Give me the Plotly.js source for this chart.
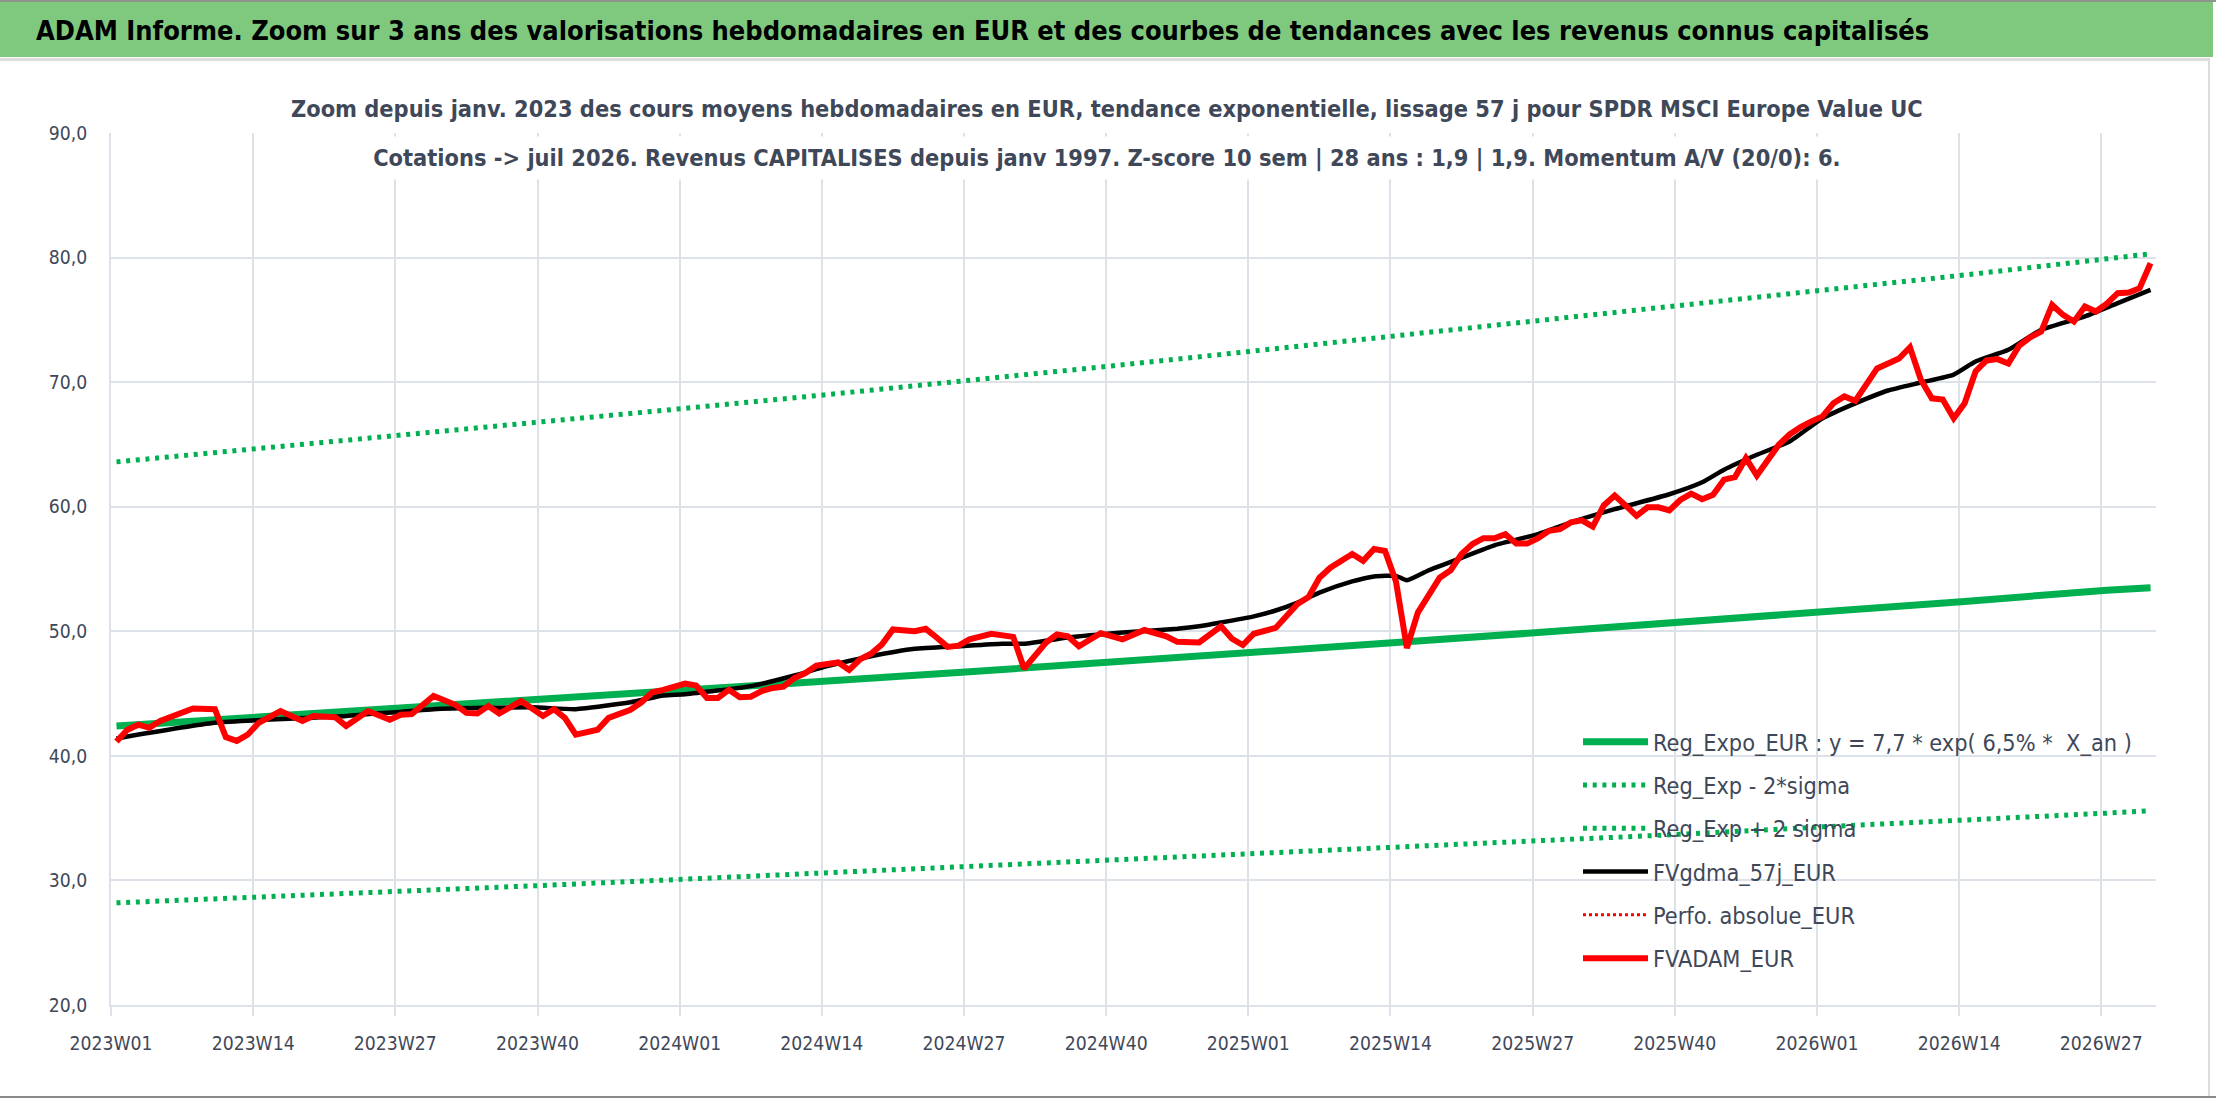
<!DOCTYPE html>
<html>
<head>
<meta charset="utf-8">
<script src="https://cdn.plot.ly/plotly-3.0.1.min.js"></script>
<style>
  html, body { margin: 0; padding: 0; background: #fff; }
  #chart { width: 2216px; height: 1102px; }
</style>
</head>
<body>
<div id="chart"></div>
<script>
// ---- semaines (axe des categories) ----
const yearWeeks = [[2023, 52], [2024, 52], [2025, 52], [2026, 31]];
const weeks = [];
yearWeeks.forEach(([y, n]) => {
  for (let w = 1; w <= n; w++) weeks.push(y + "W" + String(w).padStart(2, "0"));
});
const tickWeeks = ["2023W01","2023W14","2023W27","2023W40","2024W01","2024W14","2024W27","2024W40",
                   "2025W01","2025W14","2025W27","2025W40","2026W01","2026W14","2026W27"];
const yTicks = [20, 30, 40, 50, 60, 70, 80, 90];

// ---- courbes de tendance (lues aux graduations) ----
const trendWeeks = ["2023W01","2023W14","2023W27","2023W40","2024W01","2024W14","2024W27","2024W40",
                    "2025W01","2025W14","2025W27","2025W40","2026W01","2026W14","2026W27","2026W31"];
const regExpoEur = [42.4, 43.1, 43.8, 44.5, 45.25, 46.0, 46.75, 47.5, 48.3, 49.1, 49.9, 50.7, 51.6, 52.4, 53.3, 53.5];
const regExpMoins2s = [28.2, 28.65, 29.1, 29.6, 30.1, 30.6, 31.1, 31.6, 32.1, 32.7, 33.2, 33.7, 34.3, 34.8, 35.4, 35.6];
const regExpPlus2s = [63.6, 64.65, 65.7, 66.8, 67.9, 69.0, 70.1, 71.3, 72.5, 73.7, 74.9, 76.1, 77.3, 78.6, 79.9, 80.3];

// ---- moyenne mobile 57 j ----
const gdmaWeeks = ["2023W01","2023W10","2023W22","2023W30","2023W39","2023W43","2023W48","2023W51",
  "2024W01","2024W07","2024W11","2024W14","2024W18","2024W22","2024W26","2024W30","2024W32","2024W36",
  "2024W41","2024W46","2024W48","2024W50","2025W01","2025W03","2025W05","2025W07","2025W10","2025W12",
  "2025W14","2025W15","2025W17","2025W20","2025W23","2025W27","2025W30","2025W34","2025W39","2025W42",
  "2025W44","2025W47","2025W50","2026W01","2026W04","2026W07","2026W10","2026W13","2026W15","2026W18",
  "2026W21","2026W25","2026W28","2026W31"];
const fvgdma57jEur = [41.4, 42.65, 43.2, 43.75, 43.9, 43.75, 44.3, 44.85,
  44.95, 45.6, 46.45, 47.2, 48.0, 48.6, 48.8, 49.0, 49.0, 49.5,
  49.9, 50.2, 50.4, 50.7, 51.2, 51.67, 52.3, 53.1, 54.0, 54.4,
  54.45, 54.1, 54.9, 55.9, 56.9, 57.8, 58.74, 59.8, 61.0, 61.96,
  62.97, 64.17, 65.24, 67.1, 68.3, 69.33, 69.97, 70.6, 71.66, 72.6,
  74.2, 75.27, 76.34, 77.4];

// ---- cours hebdomadaires ----
const fvadamWeeks = ["2023W01","2023W02","2023W03","2023W04","2023W05","2023W07","2023W08","2023W10",
  "2023W11","2023W12","2023W13","2023W14","2023W16","2023W18","2023W19","2023W21","2023W22","2023W24",
  "2023W26","2023W27","2023W28","2023W30","2023W32","2023W33","2023W34","2023W35","2023W36","2023W38",
  "2023W40","2023W41","2023W42","2023W43","2023W45","2023W46","2023W48","2023W49","2023W50","2023W51",
  "2024W01","2024W02","2024W03","2024W04","2024W05","2024W06","2024W07","2024W08","2024W09","2024W10",
  "2024W11","2024W12","2024W13","2024W15","2024W16","2024W17","2024W18","2024W19","2024W20","2024W22",
  "2024W23","2024W24","2024W25","2024W26","2024W27","2024W29","2024W31","2024W32","2024W34","2024W35",
  "2024W36","2024W37","2024W39","2024W41","2024W43","2024W45","2024W46","2024W48","2024W50","2024W51",
  "2024W52","2025W01","2025W03","2025W05","2025W06","2025W07","2025W08","2025W10","2025W11","2025W12",
  "2025W13","2025W14","2025W15","2025W16","2025W17","2025W18","2025W19","2025W20","2025W21","2025W22",
  "2025W23","2025W24","2025W25","2025W26","2025W27","2025W28","2025W29","2025W30","2025W31","2025W32",
  "2025W33","2025W34","2025W35","2025W36","2025W37","2025W38","2025W39","2025W40","2025W41","2025W42",
  "2025W43","2025W44","2025W45","2025W46","2025W47","2025W48","2025W49","2025W50","2025W51","2025W52",
  "2026W01","2026W02","2026W03","2026W04","2026W05","2026W06","2026W07","2026W08","2026W09","2026W10",
  "2026W11","2026W12","2026W13","2026W14","2026W15","2026W16","2026W17","2026W18","2026W19","2026W20",
  "2026W21","2026W22","2026W23","2026W24","2026W25","2026W26","2026W27","2026W28","2026W29","2026W30",
  "2026W31"];
const fvadamEur = [41.15, 42.1, 42.5, 42.25, 42.8, 43.45, 43.8, 43.75,
  41.5, 41.2, 41.7, 42.65, 43.6, 42.8, 43.2, 43.1, 42.4, 43.6,
  42.9, 43.3, 43.35, 44.8, 44.1, 43.45, 43.4, 44.0, 43.4, 44.4,
  43.2, 43.75, 43.05, 41.7, 42.1, 43.05, 43.7, 44.3, 45.1, 45.3,
  45.8, 45.65, 44.65, 44.65, 45.3, 44.7, 44.75, 45.2, 45.45, 45.55,
  46.25, 46.65, 47.25, 47.5, 46.9, 47.75, 48.2, 48.95, 50.15, 50.0,
  50.2, 49.5, 48.75, 48.85, 49.35, 49.8, 49.55, 47.0, 49.1, 49.75,
  49.6, 48.8, 49.85, 49.35, 50.1, 49.6, 49.15, 49.1, 50.4, 49.4,
  48.9, 49.8, 50.27, 52.2, 52.74, 54.3, 55.1, 56.2, 55.65, 56.6,
  56.45, 54.0, 48.65, 51.5, 52.96, 54.3, 54.9, 56.2, 57.0, 57.47,
  57.47, 57.8, 57.04, 57.04, 57.47, 58.06, 58.2, 58.74, 58.9, 58.4,
  60.1, 60.9, 60.1, 59.27, 59.95, 59.95, 59.7, 60.54, 61.05, 60.6,
  60.96, 62.17, 62.38, 63.9, 62.5, 63.64, 64.97, 65.8, 66.4, 66.85,
  67.25, 68.3, 68.85, 68.5, 69.8, 71.1, 71.5, 71.9, 72.8, 70.2,
  68.7, 68.6, 67.1, 68.3, 70.86, 71.74, 71.85, 71.5, 72.94, 73.6,
  74.06, 76.2, 75.4, 74.87, 76.07, 75.67, 76.3, 77.14, 77.2, 77.54,
  79.55];
// serie presente dans la legende, sans point visible sur la fenetre
const perfoWeeks = ["2023W01"];
const perfoAbsolueEur = [null];

const headerText = 'ADAM Informe. Zoom sur 3 ans des valorisations hebdomadaires en EUR et des courbes de tendances avec les revenus connus capitalisés';
const titleLine1 = 'Zoom depuis janv. 2023 des cours moyens hebdomadaires en EUR, tendance exponentielle, lissage 57 j pour SPDR MSCI Europe Value UC';
const titleLine2 = 'Cotations -> juil 2026. Revenus CAPITALISES depuis janv 1997. Z-score 10 sem | 28 ans : 1,9 | 1,9. Momentum A/V (20/0): 6.';
const legendLong = 'Reg_Expo_EUR : y = 7,7 * exp( 6,5% *  X_an )';

// ---- police : la plus etroite disponible, taille ajustee a la largeur lue ----
const ctx = document.createElement('canvas').getContext('2d');
function hasFont(name) {
  const s = 'mmmmmmmmwwwllliii0123456789';
  return ['monospace', 'serif'].some(base => {
    ctx.font = '40px ' + base; const a = ctx.measureText(s).width;
    ctx.font = '40px "' + name + '", ' + base; return ctx.measureText(s).width !== a;
  });
}
const FAMILY = ['Liberation Sans Narrow', 'DejaVu Sans Condensed', 'Lato', 'Roboto'].find(hasFont) || 'Open Sans';
function textWidth(text, size, weight) {
  ctx.font = (weight || 'normal') + ' ' + size + 'px "' + FAMILY + '"';
  return ctx.measureText(text).width;
}
const fit = (text, target, weight, max) => Math.min(max, 100 * target / textWidth(text, 100, weight));

const FONT = '"' + FAMILY + '", sans-serif';
const headerSize = fit(headerText, 1894, 'bold', 40);
const titleSize = fit(titleLine1, 1632, 'bold', 32);
const legendSize = fit(legendLong, 479, 'normal', 28);
const tickSize = fit('2023W01', 83, 'normal', 26);
const titleBox = textWidth(titleLine1, titleSize, 'bold') + 12;

// ---- mise en page ----
const W = 2216, H = 1102;
const PLOT = { l: 111, r: 2156, t: 133, b: 1005 };
const px = x => (x - PLOT.l) / (PLOT.r - PLOT.l);
const py = y => (PLOT.b - y) / (PLOT.b - PLOT.t);
const idx = arr => arr.map(w => weeks.indexOf(w));

const TXT = '#3f4859';
const GRID = '#dde1e8';
const GREEN = '#00b050';
const DOTS = '4px,5.7px';

const traces = [
  { name: legendLong, x: idx(trendWeeks), y: regExpoEur,
    mode: 'lines', line: { color: GREEN, width: 7 }, legendgroup: 'a' },
  { name: 'Reg_Exp - 2*sigma', x: idx(trendWeeks), y: regExpMoins2s,
    mode: 'lines', line: { color: GREEN, width: 5, dash: DOTS }, legendgroup: 'b' },
  { name: 'Reg_Exp + 2 sigma', x: idx(trendWeeks), y: regExpPlus2s,
    mode: 'lines', line: { color: GREEN, width: 5, dash: DOTS }, legendgroup: 'c' },
  { name: 'FVgdma_57j_EUR', x: idx(gdmaWeeks), y: fvgdma57jEur,
    mode: 'lines', line: { color: '#000', width: 4.5, shape: 'spline', smoothing: 0.5 }, legendgroup: 'd' },
  { name: 'Perfo. absolue_EUR', x: idx(perfoWeeks), y: perfoAbsolueEur,
    mode: 'lines', line: { color: '#ff0000', width: 3, dash: '3px,3px' }, legendgroup: 'e' },
  { name: 'FVADAM_EUR', x: idx(fvadamWeeks), y: fvadamEur,
    mode: 'lines', line: { color: '#ff0000', width: 6 }, legendgroup: 'f' }
];

const layout = {
  width: W, height: H, autosize: false,
  margin: { l: PLOT.l, r: W - PLOT.r, t: PLOT.t, b: H - PLOT.b, pad: 0 },
  paper_bgcolor: '#fff', plot_bgcolor: '#fff',
  separators: ', ',
  font: { family: FONT, color: TXT, size: 24 },
  showlegend: true,
  legend: {
    x: px(1578), y: py(720), xanchor: 'left', yanchor: 'top',
    bgcolor: 'rgba(0,0,0,0)', font: { family: FONT, size: legendSize, color: TXT },
    tracegroupgap: 10, itemwidth: 65, traceorder: 'grouped'
  },
  xaxis: {
    type: 'linear', range: [-0.5, weeks.length - 0.5], fixedrange: true,
    tickmode: 'array', tickvals: idx(tickWeeks).map(i => i - 0.5), ticktext: tickWeeks,
    ticklabelshift: 5.5, ticks: 'outside', ticklen: 9, tickcolor: GRID, tickwidth: 2,
    showgrid: true, gridcolor: GRID, gridwidth: 2,
    showline: true, linecolor: GRID, linewidth: 2, zeroline: false,
    tickfont: { family: FONT, size: tickSize, color: TXT }, ticklabelstandoff: 11
  },
  yaxis: {
    range: [20, 90], tickmode: 'array', tickvals: yTicks, tickformat: '.1f', fixedrange: true,
    showgrid: true, gridcolor: GRID, gridwidth: 2, zeroline: false,
    showline: true, linecolor: GRID, linewidth: 2, ticks: '',
    tickfont: { family: FONT, size: tickSize, color: TXT }, ticklabelstandoff: 18
  },
  shapes: [
    { type: 'rect', xref: 'paper', yref: 'paper', x0: px(0), x1: px(2213), y0: py(57), y1: py(0),
      fillcolor: '#7fc97f', line: { width: 0 }, layer: 'above' },
    { type: 'line', xref: 'paper', yref: 'paper', x0: px(0), x1: px(2216), y0: py(1), y1: py(1),
      line: { color: '#8c948c', width: 2 } },
    { type: 'line', xref: 'paper', yref: 'paper', x0: px(0), x1: px(2210), y0: py(59.5), y1: py(59.5),
      line: { color: '#dedede', width: 3 } },
    { type: 'line', xref: 'paper', yref: 'paper', x0: px(2209), x1: px(2209), y0: py(60), y1: py(1096),
      line: { color: '#dcdcdc', width: 2 } },
    { type: 'line', xref: 'paper', yref: 'paper', x0: px(0), x1: px(2216), y0: py(1097), y1: py(1097),
      line: { color: '#8a8a8a', width: 2 } }
  ],
  annotations: [
    { text: headerText, xref: 'paper', yref: 'paper', x: px(34), y: py(30), xanchor: 'left', yanchor: 'middle',
      showarrow: false, font: { family: FONT, size: headerSize, color: '#000', weight: 'bold' } },
    { text: titleLine1, xref: 'paper', yref: 'paper', x: px(1107), y: py(109), xanchor: 'center', yanchor: 'middle',
      showarrow: false, bgcolor: '#fff', borderpad: 7, width: titleBox,
      font: { family: FONT, size: titleSize, color: TXT, weight: 'bold' } },
    { text: titleLine2, xref: 'paper', yref: 'paper', x: px(1107), y: py(158), xanchor: 'center', yanchor: 'middle',
      showarrow: false, bgcolor: '#fff', borderpad: 7, width: titleBox,
      font: { family: FONT, size: titleSize, color: TXT, weight: 'bold' } }
  ]
};

Plotly.newPlot('chart', traces, layout, { displayModeBar: false, staticPlot: true });
</script>
</body>
</html>
